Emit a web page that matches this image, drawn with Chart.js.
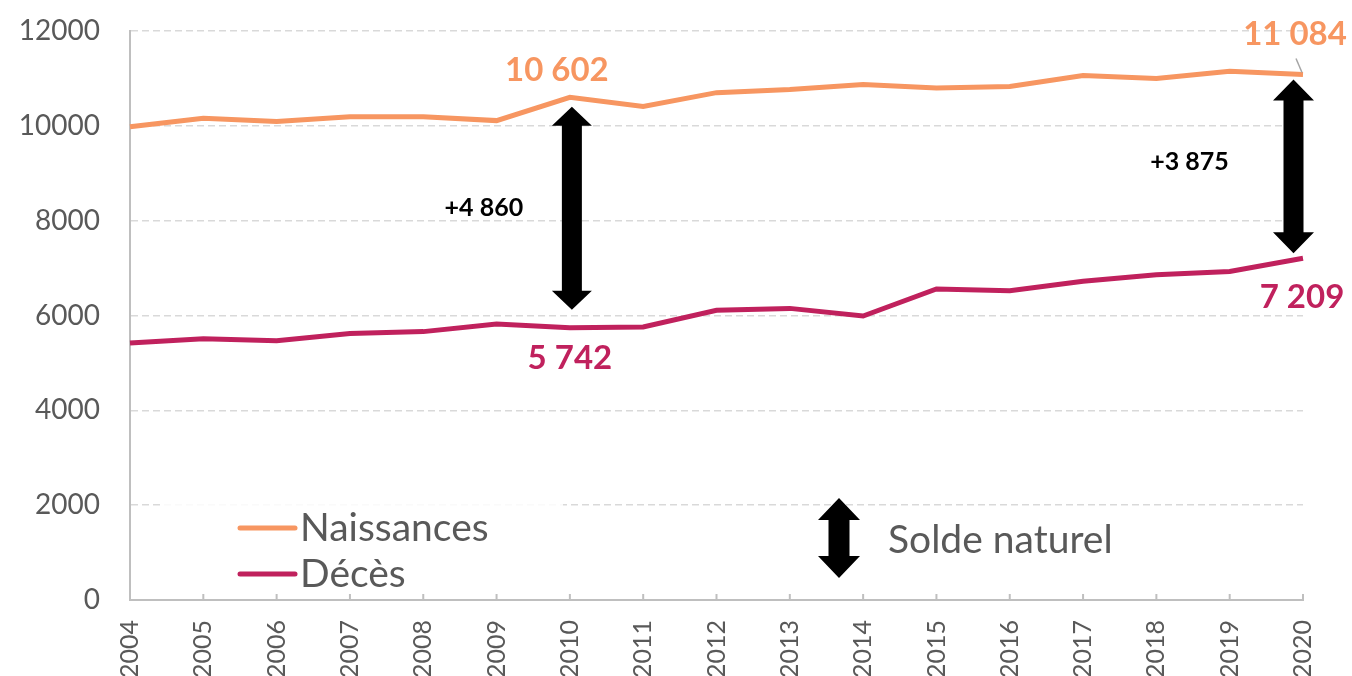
<!DOCTYPE html>
<html>
<head>
<meta charset="utf-8">
<script src="https://cdn.jsdelivr.net/npm/chart.js@4/dist/chart.umd.min.js"></script>
<style>
  body { margin: 0; background: #fff; }
  #wrap { width: 1352px; height: 676px; }
</style>
</head>
<body>
<div id="wrap"><canvas id="natChart"></canvas></div>
<script>
const years = ['2004', '2005', '2006', '2007', '2008', '2009', '2010', '2011', '2012',
  '2013', '2014', '2015', '2016', '2017', '2018', '2019', '2020'];
const naissances = [9980, 10160, 10090, 10190, 10190, 10110, 10602, 10410, 10700,
  10765, 10870, 10800, 10830, 11060, 11000, 11150, 11084];
const deces = [5420, 5510, 5470, 5620, 5660, 5820, 5742, 5760, 6110,
  6150, 5990, 6560, 6520, 6720, 6860, 6930, 7209];
const yTicks = [0, 2000, 4000, 6000, 8000, 10000, 12000];
const seriesNames = ['Naissances', 'Décès'];
const soldeLabel = 'Solde naturel';

const orange = '#F79661';
const magenta = '#C0215D';
const grey = '#595959';

// 10602 -> "10 602"
const fmt = n => String(Math.abs(n)).replace(/\B(?=(\d{3})+(?!\d))/g, ' ');

function dblArrow(ctx, x, top, bottom, headW, headL, shaftW) {
  ctx.beginPath();
  ctx.moveTo(x, top);
  ctx.lineTo(x + headW / 2, top + headL);
  ctx.lineTo(x + shaftW / 2, top + headL);
  ctx.lineTo(x + shaftW / 2, bottom - headL);
  ctx.lineTo(x + headW / 2, bottom - headL);
  ctx.lineTo(x, bottom);
  ctx.lineTo(x - headW / 2, bottom - headL);
  ctx.lineTo(x - shaftW / 2, bottom - headL);
  ctx.lineTo(x - shaftW / 2, top + headL);
  ctx.lineTo(x - headW / 2, top + headL);
  ctx.closePath();
  ctx.fillStyle = '#000';
  ctx.fill();
}

// centre text on the cap height rather than the em box
function capText(ctx, txt, x, cy, size, weight, color, align) {
  ctx.font = weight + ' ' + size + 'px Lato';
  ctx.fillStyle = color;
  ctx.textAlign = align || 'center';
  ctx.textBaseline = 'alphabetic';
  ctx.fillText(txt, x, cy + size * 0.36);
}

const overlay = {
  id: 'overlay',
  beforeDatasetsDraw(chart) {
    const { ctx, chartArea, scales } = chart;
    // legend box hides most of the 2000 gridline
    const y2000 = scales.y.getPixelForValue(2000);
    ctx.save();
    ctx.fillStyle = 'rgba(255,255,255,0.85)';
    ctx.fillRect(chartArea.left + 33, y2000 - 4, 400, chartArea.bottom - y2000 + 2);
    ctx.restore();
  },
  afterDraw(chart) {
    const { ctx, chartArea, scales } = chart;
    const nPts = chart.getDatasetMeta(0).data;
    const dPts = chart.getDatasetMeta(1).data;
    ctx.save();

    // small inner tick marks on the x axis
    ctx.strokeStyle = '#bfbfbf';
    ctx.lineWidth = 2;
    years.forEach((y, i) => {
      const x = scales.x.getPixelForValue(i);
      ctx.beginPath();
      ctx.moveTo(x, chartArea.bottom);
      ctx.lineTo(x, chartArea.bottom - 6);
      ctx.stroke();
    });

    // 2010 values and gap
    const i1 = years.indexOf('2010');
    const n1 = nPts[i1], d1 = dPts[i1];
    capText(ctx, fmt(naissances[i1]), n1.x - 13, n1.y - 28, 33, 'bold', orange);
    capText(ctx, fmt(deces[i1]), d1.x, d1.y + 29, 33, 'bold', magenta);
    const a1x = n1.x + 2, a1t = n1.y + 9.5, a1b = d1.y - 18;
    dblArrow(ctx, a1x, a1t, a1b, 40, 19, 20);
    capText(ctx, '+' + fmt(naissances[i1] - deces[i1]), a1x - 88, (a1t + a1b) / 2 - 1, 25, 'bold', '#000');

    // 2020 values and gap
    const i2 = years.indexOf('2020');
    const n2 = nPts[i2], d2 = dPts[i2];
    capText(ctx, fmt(naissances[i2]), n2.x - 8, n2.y - 41, 33, 'bold', orange);
    ctx.strokeStyle = '#a6a6a6';
    ctx.lineWidth = 1.5;
    ctx.beginPath();
    ctx.moveTo(n2.x - 7, n2.y - 16);
    ctx.lineTo(n2.x - 1, n2.y - 2);
    ctx.stroke();
    capText(ctx, fmt(deces[i2]), d2.x - 1, d2.y + 38, 33, 'bold', magenta);
    const a2x = n2.x - 9.5, a2t = n2.y + 5, a2b = d2.y - 5;
    dblArrow(ctx, a2x, a2t, a2b, 41, 21, 20);
    capText(ctx, '+' + fmt(naissances[i2] - deces[i2]), a2x - 104, (a2t + a2b) / 2 - 5, 25, 'bold', '#000');

    // legend
    const lx = chartArea.left + 110;
    const legendRows = [[seriesNames[0], orange, 527], [seriesNames[1], magenta, 573]];
    legendRows.forEach(([name, color, cy]) => {
      ctx.strokeStyle = color;
      ctx.lineWidth = 5;
      ctx.lineCap = 'round';
      ctx.beginPath();
      ctx.moveTo(lx, cy + 1);
      ctx.lineTo(lx + 55, cy + 1);
      ctx.stroke();
      capText(ctx, name, lx + 60, cy, 39, 'normal', grey, 'left');
    });
    dblArrow(ctx, 839, 498, 578, 42, 22, 21);
    capText(ctx, soldeLabel, 888, 539, 39, 'normal', grey, 'left');

    ctx.restore();
  }
};

const ctx = document.getElementById('natChart').getContext('2d');

const natChart = new Chart(ctx, {
  type: 'line',
  data: {
    labels: years,
    datasets: [{
      label: seriesNames[0],
      data: naissances,
      borderColor: orange,
      borderWidth: 5,
      pointRadius: 0,
      tension: 0,
      fill: false
    }, {
      label: seriesNames[1],
      data: deces,
      borderColor: magenta,
      borderWidth: 5,
      pointRadius: 0,
      tension: 0,
      fill: false
    }]
  },
  options: {
    responsive: true,
    maintainAspectRatio: false,
    animation: false,
    layout: {
      padding: { top: 31, right: 49, left: 0, bottom: 0 }
    },
    plugins: {
      legend: { display: false },
      tooltip: { enabled: false }
    },
    scales: {
      x: {
        grid: { display: false },
        border: { color: '#bfbfbf', width: 2 },
        ticks: {
          autoSkip: false,
          minRotation: 90,
          maxRotation: 90,
          padding: 12,
          color: grey,
          font: { family: 'Lato', size: 25 }
        },
        afterFit: scale => {
          scale.height = 76;
          scale.paddingTop = 0;
          scale.paddingBottom = 0;
        }
      },
      y: {
        min: 0,
        max: 12000,
        afterBuildTicks: scale => { scale.ticks = yTicks.map(v => ({ value: v })); },
        grid: { color: '#d9d9d9', lineWidth: 1.5, drawTicks: false },
        border: { color: '#bfbfbf', width: 2, dash: [7, 4] },
        ticks: {
          padding: 30,
          color: grey,
          font: { family: 'Lato', size: 28 },
          callback: v => String(v)
        },
        afterFit: scale => {
          scale.width = 130;
          scale.paddingTop = 0;
          scale.paddingBottom = 0;
        }
      }
    }
  },
  plugins: [overlay]
});
</script>
</body>
</html>
